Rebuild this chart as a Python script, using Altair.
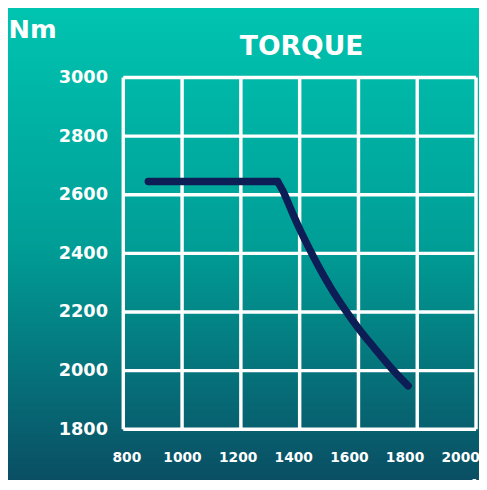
import altair as alt
import pandas as pd

# Data
rpm = [885, 1325, 1325, 1343, 1372, 1402, 1435, 1470, 1509, 1553, 1601, 1655, 1712, 1769]
torque = [2645, 2645, 2645, 2613, 2546, 2479, 2412, 2345, 2277, 2210, 2143, 2076, 2008, 1948]
segment = ["flat", "flat"] + ["fall"] * 12
x_ticks = [800, 1000, 1200, 1400, 1600, 1800, 2000]
y_ticks = [1800, 2000, 2200, 2400, 2600, 2800, 3000]
title_text = ["TORQUE"]

W, H = 358, 357
PL, PT, PR, PB = 117, 67, 3, 48
FONT = "DejaVu Sans"

df = pd.DataFrame({"rpm": rpm, "torque": torque, "seg": segment})
xt_df = pd.DataFrame({"tick": x_ticks})
yt_df = pd.DataFrame({"tick": y_ticks})
title_df = pd.DataFrame({"t": title_text})

xscale = alt.Scale(domain=[800, 2000], nice=False, zero=False)
yscale = alt.Scale(domain=[1800, 3000], nice=False, zero=False)

yaxis = alt.Axis(values=y_ticks, ticks=False, domain=False, grid=False,
                 zindex=1, format="d",
                 labelFont=FONT, labelFontWeight="bold", labelFontSize=18,
                 labelColor="white", labelPadding=16,
                 title="Nm", titleFont=FONT, titleFontWeight="bold",
                 titleFontSize=26, titleColor="white", titleAngle=0,
                 titleAlign="left", titleBaseline="alphabetic",
                 titleX=-PL, titleY=-41)

bg = alt.Chart(alt.Data(values=[{}])).mark_rect(
    fill=alt.Gradient(
        gradient="linear",
        stops=[
            alt.GradientStop(color="#00C5B1", offset=0),
            alt.GradientStop(color="#009E96", offset=0.5),
            alt.GradientStop(color="#0A4C62", offset=1),
        ],
        x1=0, x2=0, y1=0, y2=1,
    )
).encode(
    x=alt.value(-PL - 10), x2=alt.value(W + PR + 10),
    y=alt.value(-PT - 10), y2=alt.value(H + PB + 10),
)

title = alt.Chart(title_df).mark_text(
    font=FONT, fontWeight="bold", fontSize=27, color="white",
    align="center", baseline="alphabetic",
).encode(text="t:N", x=alt.value(W / 2 + 2), y=alt.value(-23))

vgrid = alt.Chart(xt_df).mark_rule(color="white", strokeWidth=3.5).encode(
    x=alt.X("tick:Q", scale=xscale, axis=None)
)
hgrid = alt.Chart(yt_df).mark_rule(color="white", strokeWidth=3.5).encode(
    y=alt.Y("tick:Q", scale=yscale, axis=yaxis)
)

line = alt.Chart(df).mark_line(
    color="#0D1D55", strokeWidth=7.5, strokeCap="round", strokeJoin="round",
    interpolate="monotone"
).encode(
    x=alt.X("rpm:Q", scale=xscale, axis=None),
    y=alt.Y("torque:Q", scale=yscale, axis=yaxis),
    detail="seg:N",
)

labels = alt.Chart(xt_df).mark_point(opacity=0).encode(
    x=alt.X("tick:Q", scale=alt.Scale(domain=[789, 2057], nice=False, zero=False),
            axis=alt.Axis(orient="bottom", values=x_ticks, ticks=False, domain=False,
                          grid=False, labelFont=FONT, labelFontWeight="bold",
                          labelFontSize=14, labelColor="white", labelPadding=22,
                          format="d", zindex=1,
                          title="rpm/min", titleFont=FONT, titleFontWeight="bold",
                          titleFontSize=19, titleColor="white",
                          titleAlign="left", titleBaseline="top",
                          titleX=283, titleY=50)),
)

chart = alt.layer(bg, alt.layer(vgrid, hgrid, line), title, labels).resolve_scale(
    x="independent"
).properties(
    width=W, height=H,
    autosize=alt.AutoSizeParams(type="none"),
    padding={"left": PL, "top": PT, "right": PR, "bottom": PB},
    background="#0A8A88",
).configure_view(stroke=None, fill=None)

chart.save("out.html", embed_options={"renderer": "svg", "actions": False})
